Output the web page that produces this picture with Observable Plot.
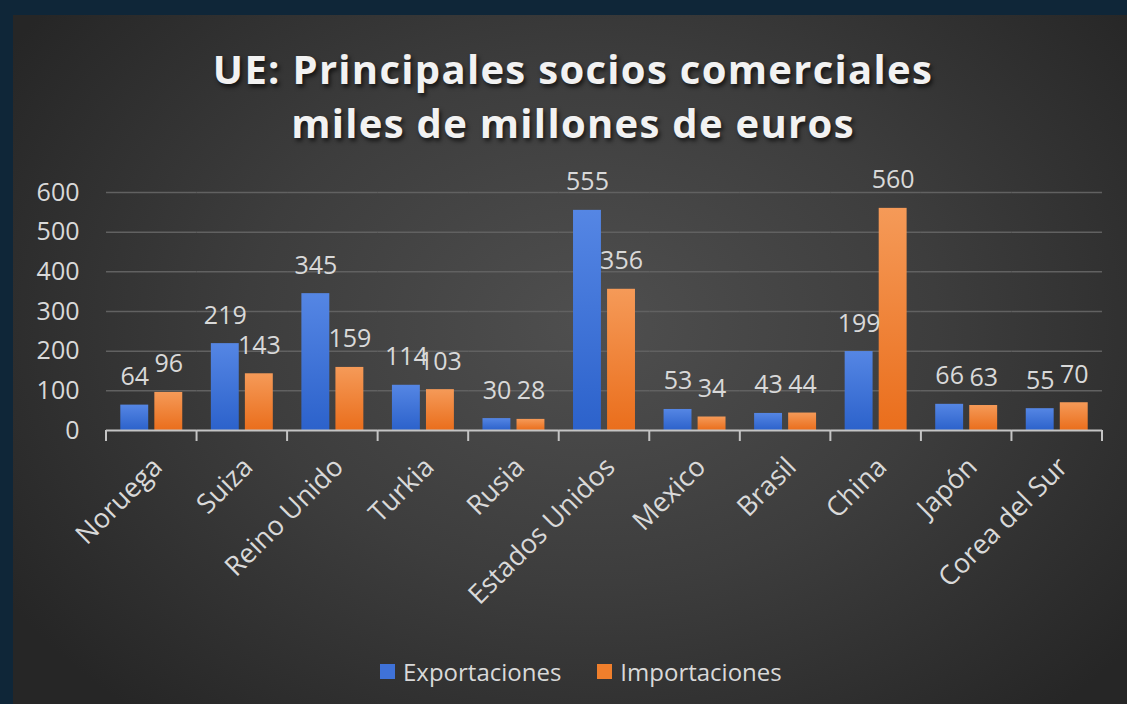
<!DOCTYPE html>
<html>
<head>
<meta charset="utf-8">
<script src="https://cdn.jsdelivr.net/npm/d3@7"></script>
<script src="https://cdn.jsdelivr.net/npm/@observablehq/plot@0.6"></script>
<style>
html, body { margin:0; padding:0; background:#0f2638; width:1127px; height:704px; overflow:hidden; }
#panel { position:absolute; left:13px; top:15px; width:1114px; height:689px;
  background: radial-gradient(ellipse 62% 75% at 52% 45%, #4f4f4f 0%, #3d3d3d 50%, #262626 100%);
  font-family:"Open Sans", sans-serif; color:#d9d9d9; }
#title { position:absolute; left:0; top:27px; width:100%; text-align:center; font-weight:700;
  font-size:40px; letter-spacing:1.3px; line-height:54px; color:#f2f2f2; padding-left:6px; box-sizing:border-box;
  text-shadow: 2px 3px 4px rgba(0,0,0,0.65); }
#chart { position:absolute; left:0; top:155px; }
#legend { position:absolute; left:367px; top:640px; height:32px; display:flex; align-items:center; font-size:24px; color:#d9d9d9; }
#legend .item { display:flex; align-items:center; }
#legend .sw { width:15px; height:15px; margin-right:8px; }
</style>
</head>
<body>
<div id="panel">
  <div id="title">UE: Principales socios comerciales<br>miles de millones de euros</div>
  <div id="chart"></div>
  <div id="legend"></div>
</div>
<script>
const paises = ["Noruega","Suiza","Reino Unido","Turkia","Rusia","Estados Unidos","Mexico","Brasil","China","Japón","Corea del Sur"];
const series = ["Exportaciones","Importaciones"];
const exportaciones = [64,219,345,114,30,555,53,43,199,66,55];
const importaciones = [96,143,159,103,28,356,34,44,560,63,70];
const yTicks = [0,100,200,300,400,500,600];
const gradientes = [["gradExp","#5586e4","#2c62cb"],["gradImp","#f59a58","#ea6e1c"]];
const swatchColors = ["#3f72d8","#f07f2c"];

const data = paises.flatMap((p, i) => [
  {pais: p, serie: series[0], valor: exportaciones[i]},
  {pais: p, serie: series[1], valor: importaciones[i]}
]);

const plot = Plot.plot({
  width: 1114,
  height: 480,
  marginLeft: 93,
  marginRight: 25,
  marginTop: 22,
  marginBottom: 220,
  style: {background: "transparent", color: "#d9d9d9", fontFamily: "'Open Sans', sans-serif", overflow: "visible"},
  fx: {domain: paises, padding: 0, round: false, axis: null},
  x: {domain: series, paddingInner: 0.18, paddingOuter: 0.42, round: false, axis: null},
  y: {domain: [0, 600], axis: null},
  color: {domain: series, range: gradientes.map(g => `url(#${g[0]})`)},
  marks: [
    Plot.ruleY(yTicks.filter(t => t > 0), {stroke: "#616161", strokeWidth: 1.5}),
    Plot.axisY({ticks: yTicks, tickSize: 0, tickPadding: 27, fontSize: 25, fill: "#d9d9d9", label: null}),
    Plot.barY(data, {fx: "pais", x: "serie", y: "valor", fill: "serie"}),
    Plot.ruleY([0], {stroke: "#c4c4c4", strokeWidth: 2}),
    Plot.text(data, {fx: "pais", x: "serie", y: "valor", text: d => String(d.valor), dy: -20, lineAnchor: "bottom", fontSize: 25, fill: "#d9d9d9"}),
    Plot.text(paises, {fx: d => d, text: d => d, frameAnchor: "bottom", rotate: -45, textAnchor: "end", lineAnchor: "middle", dx: 6, dy: 32, fontSize: 27, fill: "#d9d9d9"})
  ]
});

// gradients for bars
const svg = d3.select(plot);
const defs = svg.insert("defs", ":first-child");
gradientes.forEach(([id, top, bottom]) => {
  const g = defs.append("linearGradient").attr("id", id).attr("x1", 0).attr("y1", 0).attr("x2", 0).attr("y2", 1);
  g.append("stop").attr("offset", "0%").attr("stop-color", top);
  g.append("stop").attr("offset", "100%").attr("stop-color", bottom);
});

// category boundary ticks below the axis, from the fx scale
const fx = plot.scale("fx");
const y0 = plot.scale("y").apply(0);
const bounds = paises.map(p => fx.apply(p)).concat([fx.apply(paises[paises.length - 1]) + fx.step]);
svg.append("g").selectAll("line").data(bounds).join("line")
  .attr("x1", d => d).attr("x2", d => d)
  .attr("y1", y0).attr("y2", y0 + 11)
  .attr("stroke", "#c4c4c4").attr("stroke-width", 2);

document.getElementById("chart").appendChild(plot);

// legend
const legend = d3.select("#legend");
series.forEach((s, i) => {
  const it = legend.append("div").attr("class", "item").style("margin-right", i === 0 ? "36px" : "0");
  it.append("div").attr("class", "sw").style("background", swatchColors[i]);
  it.append("span").text(s);
});
</script>
</body>
</html>
